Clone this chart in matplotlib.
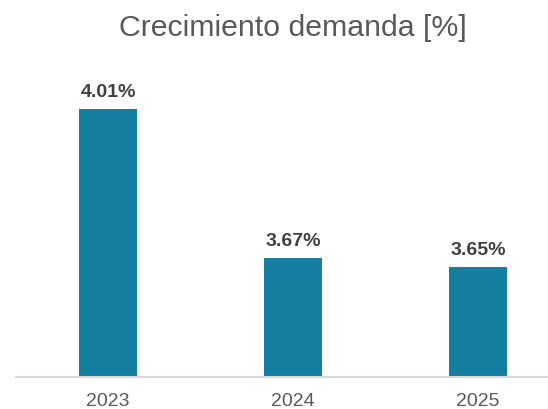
import matplotlib.pyplot as plt

years = ["2023", "2024", "2025"]
growth = [4.01, 3.67, 3.65]
labels = ["4.01%", "3.67%", "3.65%"]

plt.rcParams['font.family'] = ['Liberation Sans', 'DejaVu Sans']

W, H = 548, 409
fig = plt.figure(figsize=(W / 100, H / 100), dpi=100)
# axes box in pixels: left 15.7, right 548, baseline 376.7, top 70
ax = fig.add_axes([15.7 / W, 1 - 376.7 / H, (W - 15.7) / W, (376.7 - 70) / H])

x = range(len(years))
ax.bar(x, growth, width=0.314, color="#157FA1")
ax.set_xlim(-0.5, 2.377)
ax.set_ylim(3.40, 4.10)

for i, v in enumerate(growth):
    ax.annotate(labels[i], (i, v), xytext=(0, 9), textcoords="offset points",
                ha="center", va="baseline", fontsize=14, fontweight="bold", color="#404040")

ax.set_xticks(list(x))
ax.set_xticklabels(years, fontsize=14, color="#595959")
ax.tick_params(axis="x", length=0, pad=12)
ax.set_yticks([])
for s in ["top", "right", "left"]:
    ax.spines[s].set_visible(False)
ax.spines["bottom"].set_color("#D9D9D9")
ax.spines["bottom"].set_linewidth(1.5)

fig.text(292.5 / W, 1 - 36 / H, "Crecimiento demanda [%]", ha="center", va="baseline",
         fontsize=21.8, color="#595959")

fig.savefig("out.png", dpi=100)
